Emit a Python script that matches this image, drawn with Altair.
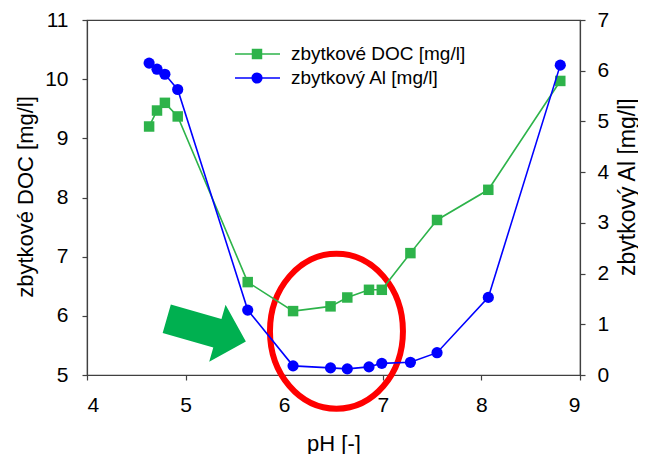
import altair as alt
import pandas as pd

# ---- data ----
ph = [4.63, 4.71, 4.79, 4.92, 5.63, 6.09, 6.47, 6.64, 6.86, 6.99, 7.28, 7.55, 8.07, 8.80]
doc = [9.20, 9.47, 9.60, 9.37, 6.57, 6.08, 6.16, 6.31, 6.44, 6.44, 7.06, 7.62, 8.13, 9.97]
al = [6.15, 6.03, 5.93, 5.63, 1.28, 0.18, 0.14, 0.12, 0.16, 0.23, 0.25, 0.44, 1.53, 6.11]

x_ticks = [4, 5, 6, 7, 8, 9]
doc_ticks = [5, 6, 7, 8, 9, 10, 11]
al_ticks = [0, 1, 2, 3, 4, 5, 6, 7]

legend_labels = ["zbytkové DOC [mg/l]", "zbytkový Al [mg/l]"]

# annotation anchors (in pH / DOC units)
arrow_pos = {"pH": [5.21], "DOC": [5.76]}
ellipse_pos = {"pH": [6.53], "DOC": [5.74]}

GREEN = "#2db34a"
BLUE = "#0000ff"
ARROW_GREEN = "#00b050"
FONT = "Liberation Sans"

df = pd.DataFrame({"pH": ph, "DOC": doc, "Al": al})

x_scale = alt.Scale(domain=[4, 9], nice=False, zero=False)
doc_scale = alt.Scale(domain=[5, 11], nice=False, zero=False)
al_scale = alt.Scale(domain=[0, 7], nice=False, zero=False)

x_enc = alt.X("pH:Q", scale=x_scale,
              axis=alt.Axis(title="pH [-]", values=x_ticks, format="d",
                            labelPadding=14, titleX=246.5, titleY=75, titleFontSize=22,
                            titleBaseline="alphabetic", titleAlign="center"))
doc_enc = alt.Y("DOC:Q", scale=doc_scale,
                axis=alt.Axis(title="zbytkové DOC [mg/l]", values=doc_ticks, format="d",
                              orient="left", labelPadding=14, titleFontSize=22,
                              titleAngle=270, titleX=-54.6, titleY=176.5,
                              titleAlign="center", titleBaseline="alphabetic"))
al_enc = alt.Y("Al:Q", scale=al_scale,
               axis=alt.Axis(title="zbytkový Al [mg/l]", values=al_ticks, format="d",
                             orient="right", labelPadding=12, titleFontSize=23,
                             titleAngle=270, titleX=54, titleY=166.7,
                             titleAlign="center", titleBaseline="alphabetic"))

ARROW = "M -1 -0.36 L 0.28 -0.36 L 0.28 -0.72 L 1 0 L 0.28 0.72 L 0.28 0.36 L -1 0.36 Z"
ELLIPSE = "M -0.858 0 A 0.858 1 0 1 0 0.858 0 A 0.858 1 0 1 0 -0.858 0 Z"

arrow = alt.Chart(pd.DataFrame(arrow_pos)).mark_point(
    shape=ARROW, size=6774, angle=16, filled=True, fill=ARROW_GREEN,
    opacity=1, strokeWidth=0
).encode(x=x_enc, y=doc_enc)

ellipse = alt.Chart(pd.DataFrame(ellipse_pos)).mark_point(
    shape=ELLIPSE, size=24025, filled=False, stroke="#ff0000",
    opacity=1, strokeWidth=6
).encode(x=x_enc, y=doc_enc)

doc_line = alt.Chart(df).mark_line(color=GREEN, strokeWidth=1.6).encode(x=x_enc, y=doc_enc)
doc_pts = alt.Chart(df).mark_point(shape="square", size=110, filled=True,
                                   color=GREEN, opacity=1).encode(x=x_enc, y=doc_enc)

al_line = alt.Chart(df).mark_line(color=BLUE, strokeWidth=1.6).encode(x=x_enc, y=al_enc)
al_pts = alt.Chart(df).mark_point(shape="circle", size=125, filled=True,
                                  color=BLUE, opacity=1).encode(x=x_enc, y=al_enc)

doc_layer = alt.layer(arrow, ellipse, doc_line, doc_pts)
al_layer = alt.layer(al_line, al_pts)

# legend (manual)
leg = []
rows = [(legend_labels[0], GREEN, "square", 110, 34), (legend_labels[1], BLUE, "circle", 125, 58)]
for label, col, shp, sz, yy in rows:
    ldf = pd.DataFrame({"label": [label]})
    leg.append(alt.Chart(ldf).mark_rule(color=col, strokeWidth=1.6).encode(
        x=alt.value(148), x2=alt.value(193), y=alt.value(yy)))
    leg.append(alt.Chart(ldf).mark_point(shape=shp, size=sz, filled=True, color=col, opacity=1).encode(
        x=alt.value(170), y=alt.value(yy)))
    leg.append(alt.Chart(ldf).mark_text(align="left", baseline="middle", font=FONT,
                                        fontSize=19, color="black").encode(
        x=alt.value(204), y=alt.value(yy), text="label:N"))

chart = alt.layer(doc_layer, al_layer, *leg).resolve_scale(y="independent").properties(
    width=493, height=355,
    autosize=alt.AutoSizeParams(type="none"),
    padding={"left": 79, "top": 12, "right": 58, "bottom": 79},
).configure_view(stroke="#404040", strokeWidth=1.2).configure_axis(
    labelFont=FONT, labelFontSize=21, labelColor="black",
    titleFont=FONT, titleFontSize=21, titleFontWeight="normal", titleColor="black",
    domainColor="#404040", tickColor="#404040", tickSize=5, grid=False,
    domainWidth=1.2, tickWidth=1.2
)

chart.save("out.html", embed_options={"renderer": "svg", "actions": False})
